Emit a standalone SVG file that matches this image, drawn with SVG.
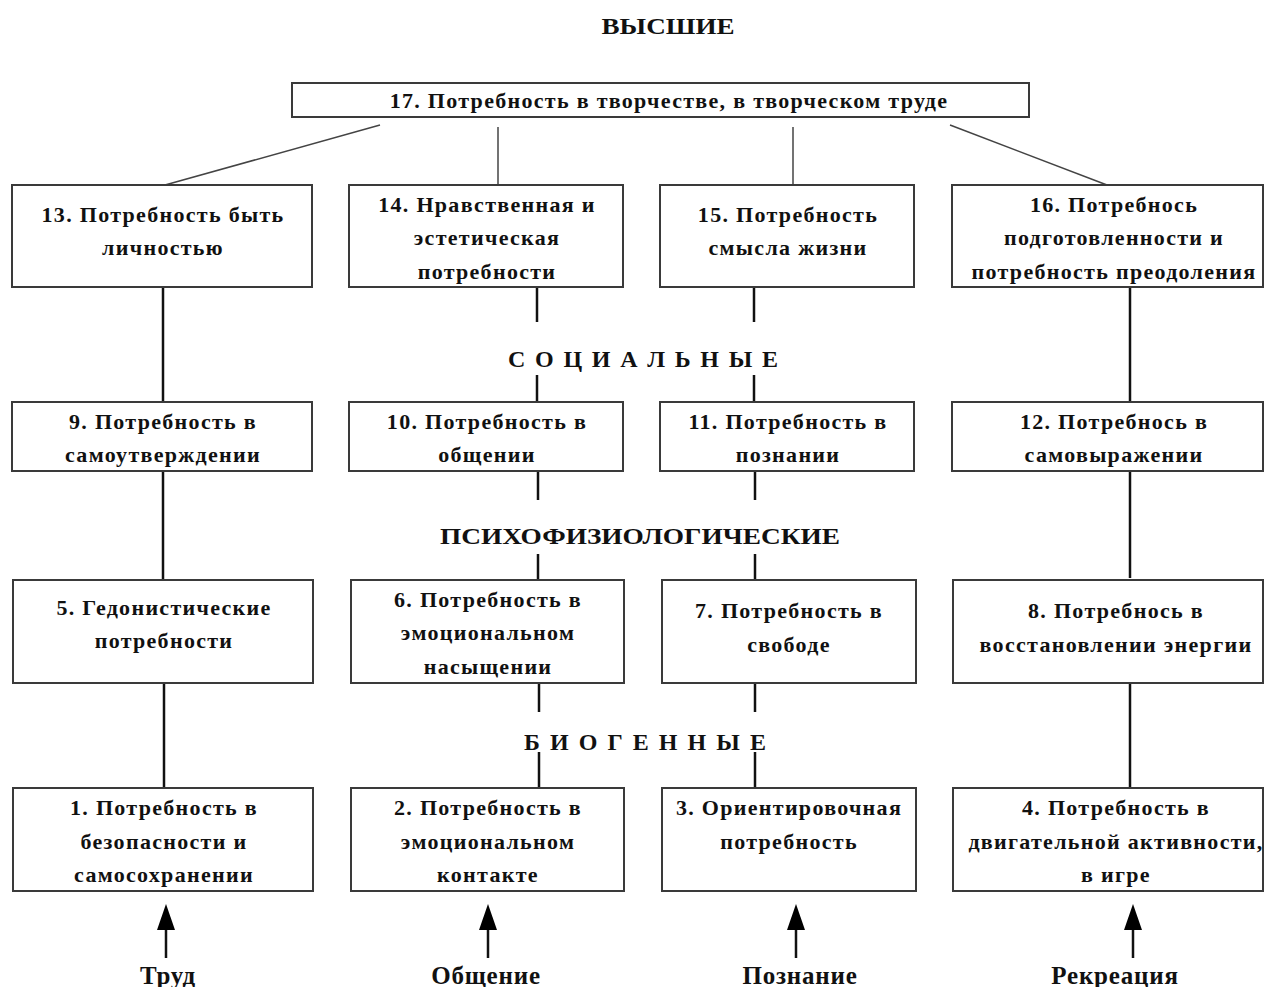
<svg xmlns="http://www.w3.org/2000/svg" width="1264" height="987" viewBox="0 0 1264 987">
<style>
.box{fill:#fff;stroke:#3a3a3a;stroke-width:2}
.t{font-family:"Liberation Serif","Times New Roman",serif;font-weight:bold;font-size:22px;letter-spacing:1.3px;fill:#111;text-anchor:middle}
.lbl{font-family:"Liberation Serif","Times New Roman",serif;font-weight:bold;font-size:24px;fill:#111;text-anchor:middle}
.bl{font-family:"Liberation Serif","Times New Roman",serif;font-weight:bold;font-size:25px;letter-spacing:0.8px;fill:#111;text-anchor:middle}
.c{stroke:#111;stroke-width:2.5;fill:none}
.d{stroke:#444;stroke-width:1.5;fill:none}
.ah{fill:#000}
</style>
<rect width="1264" height="987" fill="#fff"/>
<text class="lbl" x="668" y="34" textLength="133" lengthAdjust="spacingAndGlyphs">ВЫСШИЕ</text>
<g id="connectors">
<line class="d" x1="380" y1="125" x2="165" y2="185"/>
<line class="d" x1="498" y1="127" x2="498" y2="184"/>
<line class="d" x1="793" y1="127" x2="793" y2="184"/>
<line class="d" x1="950" y1="125" x2="1107" y2="185"/>
<line class="c" x1="163" y1="288" x2="163" y2="402"/>
<line class="c" x1="537" y1="288" x2="537" y2="322"/>
<line class="c" x1="537" y1="375" x2="537" y2="402"/>
<line class="c" x1="754" y1="288" x2="754" y2="322"/>
<line class="c" x1="754" y1="375" x2="754" y2="402"/>
<line class="c" x1="1130" y1="288" x2="1130" y2="402"/>
<line class="c" x1="163" y1="471" x2="163" y2="580"/>
<line class="c" x1="538" y1="471" x2="538" y2="500"/>
<line class="c" x1="538" y1="554" x2="538" y2="580"/>
<line class="c" x1="755" y1="471" x2="755" y2="500"/>
<line class="c" x1="755" y1="554" x2="755" y2="580"/>
<line class="c" x1="1130" y1="471" x2="1130" y2="578"/>
<line class="c" x1="164" y1="683" x2="164" y2="788"/>
<line class="c" x1="539" y1="683" x2="539" y2="712"/>
<line class="c" x1="539" y1="752" x2="539" y2="788"/>
<line class="c" x1="755" y1="683" x2="755" y2="712"/>
<line class="c" x1="755" y1="752" x2="755" y2="788"/>
<line class="c" x1="1130" y1="683" x2="1130" y2="788"/>
<line class="c" x1="166" y1="928" x2="166" y2="958"/>
<polygon class="ah" points="166,904 157,930 175,930"/>
<line class="c" x1="488" y1="928" x2="488" y2="958"/>
<polygon class="ah" points="488,904 479,930 497,930"/>
<line class="c" x1="796" y1="928" x2="796" y2="958"/>
<polygon class="ah" points="796,904 787,930 805,930"/>
<line class="c" x1="1133" y1="928" x2="1133" y2="958"/>
<polygon class="ah" points="1133,904 1124,930 1142,930"/>
</g>
<text class="lbl" x="643" y="367" textLength="270" lengthAdjust="spacing">С О Ц И А Л Ь Н Ы Е</text>
<text class="lbl" x="640" y="544" textLength="400" lengthAdjust="spacingAndGlyphs">ПСИХОФИЗИОЛОГИЧЕСКИЕ</text>
<text class="lbl" x="645" y="750" textLength="242" lengthAdjust="spacing">Б И О Г Е Н Н Ы Е</text>
<g id="n17"><rect class="box" x="292" y="83" width="737" height="34"/><text class="t" x="669" y="108">17. Потребность в творчестве, в творческом труде</text></g>
<g id="n13"><rect class="box" x="12" y="185" width="300" height="102"/><text class="t" x="163" y="222">13. Потребность быть</text><text class="t" x="163" y="255">личностью</text></g>
<g id="n14"><rect class="box" x="349" y="185" width="274" height="102"/><text class="t" x="487" y="212">14. Нравственная и</text><text class="t" x="487" y="245">эстетическая</text><text class="t" x="487" y="279">потребности</text></g>
<g id="n15"><rect class="box" x="660" y="185" width="254" height="102"/><text class="t" x="788" y="222">15. Потребность</text><text class="t" x="788" y="255">смысла жизни</text></g>
<g id="n16"><rect class="box" x="952" y="185" width="311" height="102"/><text class="t" x="1114" y="212">16. Потребнось</text><text class="t" x="1114" y="245">подготовленности и</text><text class="t" x="1114" y="279">потребность преодоления</text></g>
<g id="n9"><rect class="box" x="12" y="402" width="300" height="69"/><text class="t" x="163" y="429">9. Потребность в</text><text class="t" x="163" y="462">самоутверждении</text></g>
<g id="n10"><rect class="box" x="349" y="402" width="274" height="69"/><text class="t" x="487" y="429">10. Потребность в</text><text class="t" x="487" y="462">общении</text></g>
<g id="n11"><rect class="box" x="660" y="402" width="254" height="69"/><text class="t" x="788" y="429">11. Потребность в</text><text class="t" x="788" y="462">познании</text></g>
<g id="n12"><rect class="box" x="952" y="402" width="311" height="69"/><text class="t" x="1114" y="429">12. Потребнось в</text><text class="t" x="1114" y="462">самовыражении</text></g>
<g id="n5"><rect class="box" x="13" y="580" width="300" height="103"/><text class="t" x="164" y="615">5. Гедонистические</text><text class="t" x="164" y="648">потребности</text></g>
<g id="n6"><rect class="box" x="351" y="580" width="273" height="103"/><text class="t" x="488" y="607">6. Потребность в</text><text class="t" x="488" y="640">эмоциональном</text><text class="t" x="488" y="674">насыщении</text></g>
<g id="n7"><rect class="box" x="662" y="580" width="254" height="103"/><text class="t" x="789" y="618">7. Потребность в</text><text class="t" x="789" y="652">свободе</text></g>
<g id="n8"><rect class="box" x="953" y="580" width="310" height="103"/><text class="t" x="1116" y="618">8. Потребнось в</text><text class="t" x="1116" y="652">восстановлении энергии</text></g>
<g id="n1"><rect class="box" x="13" y="788" width="300" height="103"/><text class="t" x="164" y="815">1. Потребность в</text><text class="t" x="164" y="849">безопасности и</text><text class="t" x="164" y="882">самосохранении</text></g>
<g id="n2"><rect class="box" x="351" y="788" width="273" height="103"/><text class="t" x="488" y="815">2. Потребность в</text><text class="t" x="488" y="849">эмоциональном</text><text class="t" x="488" y="882">контакте</text></g>
<g id="n3"><rect class="box" x="662" y="788" width="254" height="103"/><text class="t" x="789" y="815">3. Ориентировочная</text><text class="t" x="789" y="849">потребность</text></g>
<g id="n4"><rect class="box" x="953" y="788" width="310" height="103"/><text class="t" x="1116" y="815">4. Потребность в</text><text class="t" x="1116" y="849">двигательной активности,</text><text class="t" x="1116" y="882">в игре</text></g>
<text class="bl" x="168" y="984">Труд</text>
<text class="bl" x="486" y="984">Общение</text>
<text class="bl" x="800" y="984">Познание</text>
<text class="bl" x="1115" y="984">Рекреация</text>
</svg>
